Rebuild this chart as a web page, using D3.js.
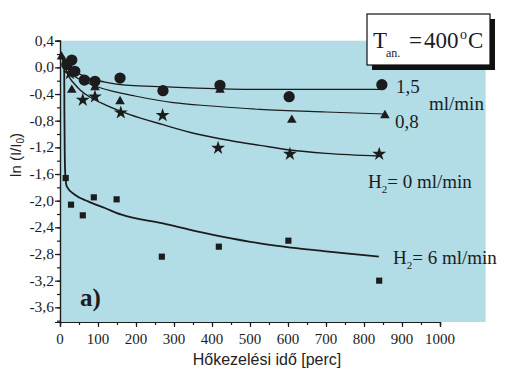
<!DOCTYPE html>
<html>
<head>
<meta charset="utf-8">
<script src="https://cdn.jsdelivr.net/npm/d3@7"></script>
<style>
  body { margin: 0; background: #fff; }
  svg { display: block; }
</style>
</head>
<body>
<svg width="512" height="384"></svg>
<script>
// measured points (time in min, ln(I/I0))
var time15 = [18, 31, 39, 64, 92, 158, 271, 421, 603, 847];
var val15  = [0.04, 0.11, -0.06, -0.19, -0.21, -0.16, -0.35, -0.27, -0.44, -0.26];
var time08 = [4, 31, 92, 158, 421, 610, 855];
var val08  = [0.16, -0.34, -0.30, -0.51, -0.34, -0.79, -0.72];
var time0  = [26, 60, 92, 160, 270, 416, 605, 840];
var val0   = [-0.09, -0.49, -0.44, -0.68, -0.72, -1.21, -1.30, -1.30];
var time6  = [15, 29, 60, 89, 149, 268, 418, 601, 840];
var val6   = [-1.66, -2.06, -2.22, -1.95, -1.98, -2.84, -2.69, -2.60, -3.20];

// fitted curves
var fitTime15 = [5, 15, 25, 39, 55, 75, 118, 184, 270, 360, 526, 700, 847];
var fitVal15  = [0.15, 0.06, 0.0, -0.06, -0.11, -0.16, -0.22, -0.27, -0.29, -0.31, -0.33, -0.33, -0.33];
var fitTime08 = [5, 15, 25, 40, 60, 92, 140, 197, 298, 400, 526, 700, 855];
var fitVal08  = [0.15, 0.03, -0.06, -0.14, -0.2, -0.28, -0.36, -0.43, -0.53, -0.58, -0.63, -0.67, -0.70];
var fitTime0  = [5, 15, 26, 40, 53, 83, 118, 184, 271, 360, 450, 526, 605, 700, 840];
var fitVal0   = [0.15, -0.03, -0.16, -0.26, -0.34, -0.46, -0.56, -0.71, -0.86, -1.0, -1.1, -1.17, -1.24, -1.29, -1.33];
var fitTime6  = [11, 11.5, 12.5, 14, 18, 39, 74, 118, 162, 271, 360, 447, 526, 700, 839];
var fitVal6   = [0.16, -0.6, -1.3, -1.62, -1.79, -1.91, -2.01, -2.11, -2.21, -2.34, -2.46, -2.56, -2.64, -2.76, -2.84];

var xTicks = [0, 100, 200, 300, 400, 500, 600, 700, 800, 900, 1000];
var yTicks = [0.4, 0.0, -0.4, -0.8, -1.2, -1.6, -2.0, -2.4, -2.8, -3.2, -3.6];

var svg = d3.select("svg");
var x = d3.scaleLinear().domain([0, 1000]).range([60, 440]);
var y = d3.scaleLinear().domain([-3.82, 0.4]).range([322, 40.7]);
var ink = "#1c1c1c";

function zip(t, v) { return t.map(function(d, i) { return [d, v[i]]; }); }
function comma(d) { return d3.format(".1f")(d).replace(".", ",").replace("\u2212", "-"); }

// background
svg.append("rect")
    .attr("x", x(0)).attr("y", y(0.4))
    .attr("width", x(1120) - x(0)).attr("height", y(-3.82) - y(0.4))
    .attr("fill", "#b2dde7");

// axes
var xMinor = d3.range(0, 1001, 50);
var yMinor = d3.range(-3.8, 0.41, 0.2);

var gx = svg.append("g").attr("transform", "translate(0," + y(-3.82) + ")")
    .call(d3.axisBottom(x).tickValues(xMinor).tickSize(3).tickFormat(""));
gx.append("g").call(d3.axisBottom(x).tickValues(xTicks).tickSize(5).tickFormat(""));
gx.selectAll("path, line").attr("stroke", ink).attr("stroke-width", 1.2);

var gy = svg.append("g").attr("transform", "translate(" + x(0) + ",0)")
    .call(d3.axisLeft(y).tickValues(yMinor).tickSize(3).tickFormat(""));
gy.append("g").call(d3.axisLeft(y).tickValues(yTicks).tickSize(5).tickFormat(""));
gy.selectAll("path, line").attr("stroke", ink).attr("stroke-width", 1.2);

svg.append("g").selectAll("text").data(xTicks).enter().append("text")
    .attr("x", function(d) { return x(d); })
    .attr("y", y(-3.82) + 22)
    .attr("text-anchor", "middle")
    .attr("font-family", "Liberation Serif, serif")
    .attr("font-size", 15)
    .attr("fill", ink)
    .text(function(d) { return d; });

svg.append("g").selectAll("text").data(yTicks).enter().append("text")
    .attr("x", x(0) - 6)
    .attr("y", function(d) { return y(d) + 5; })
    .attr("text-anchor", "end")
    .attr("font-family", "Liberation Serif, serif")
    .attr("font-size", 15.5)
    .attr("fill", ink)
    .text(comma);

// axis titles
svg.append("text")
    .attr("x", 267).attr("y", 365)
    .attr("text-anchor", "middle")
    .attr("font-family", "Liberation Sans, Arial, sans-serif")
    .attr("font-size", 16)
    .attr("fill", "#222")
    .text("Hőkezelési idő [perc]");

var yl = svg.append("text")
    .attr("transform", "translate(21,155) rotate(-90)")
    .attr("text-anchor", "middle")
    .attr("font-family", "Liberation Sans, Arial, sans-serif")
    .attr("font-size", 15)
    .attr("fill", "#222");
yl.append("tspan").text("ln (I/I");
yl.append("tspan").attr("font-size", 10).attr("dy", 3).text("0");
yl.append("tspan").attr("dy", -3).text(")");

// fitted lines
var line = d3.line()
    .x(function(d) { return x(d[0]); })
    .y(function(d) { return y(d[1]); })
    .curve(d3.curveMonotoneX);

[[fitTime15, fitVal15, 1.3], [fitTime08, fitVal08, 1.2], [fitTime0, fitVal0, 1.4], [fitTime6, fitVal6, 1.8]]
  .forEach(function(s) {
    svg.append("path")
        .attr("d", line(zip(s[0], s[1])))
        .attr("fill", "none")
        .attr("stroke", ink)
        .attr("stroke-width", s[2]);
  });

// markers
var series = [
  [time15, val15, d3.symbolCircle, 100],
  [time08, val08, d3.symbolTriangle, 40],
  [time0, val0, d3.symbolStar, 60],
  [time6, val6, d3.symbolSquare, 38]
];
series.forEach(function(s) {
  svg.append("g").selectAll("path").data(zip(s[0], s[1])).enter().append("path")
      .attr("transform", function(d) { return "translate(" + x(d[0]) + "," + y(d[1]) + ")"; })
      .attr("d", d3.symbol().type(s[2]).size(s[3]))
      .attr("fill", ink);
});

// series labels
function label(px, py, parts) {
  var t = svg.append("text")
      .attr("x", px).attr("y", py)
      .attr("font-family", "Liberation Serif, serif")
      .attr("font-size", 19)
      .attr("fill", ink);
  parts.forEach(function(p) {
    var s = t.append("tspan").text(p[0]);
    if (p[1]) s.attr("font-size", 11).attr("dy", p[1]);
    if (p[2]) s.attr("dy", p[2]);
  });
}
label(396, 93, [["1,5"]]);
label(429, 110, [["ml/min"]]);
label(395, 128, [["0,8"]]);
label(368, 188, [["H"], ["2", 5], ["= 0 ml/min", 0, -5]]);
label(393, 264, [["H"], ["2", 5], ["= 6 ml/min", 0, -5]]);

svg.append("text")
    .attr("x", 80).attr("y", 306)
    .attr("font-family", "Liberation Serif, serif")
    .attr("font-weight", "bold")
    .attr("font-size", 25)
    .attr("fill", ink)
    .text("a)");

// title box with shadow
svg.append("rect").attr("x", 372).attr("y", 19).attr("width", 123).attr("height", 51).attr("fill", "#111");
svg.append("rect").attr("x", 367).attr("y", 14).attr("width", 123).attr("height", 51)
    .attr("fill", "#fff").attr("stroke", "#111").attr("stroke-width", 1.2);
var tt = svg.append("text")
    .attr("y", 48)
    .attr("font-family", "Liberation Serif, serif")
    .attr("font-size", 23)
    .attr("fill", ink);
tt.append("tspan").attr("x", 373).text("T");
tt.append("tspan").attr("x", 386).attr("font-size", 12).attr("dy", 9).text("an.");
tt.append("tspan").attr("x", 409).attr("dy", -9).text("=");
tt.append("tspan").attr("x", 424).text("400");
tt.append("tspan").attr("x", 460).attr("font-size", 14).attr("dy", -9).text("o");
tt.append("tspan").attr("x", 468).attr("dy", 9).text("C");
</script>
</body>
</html>
